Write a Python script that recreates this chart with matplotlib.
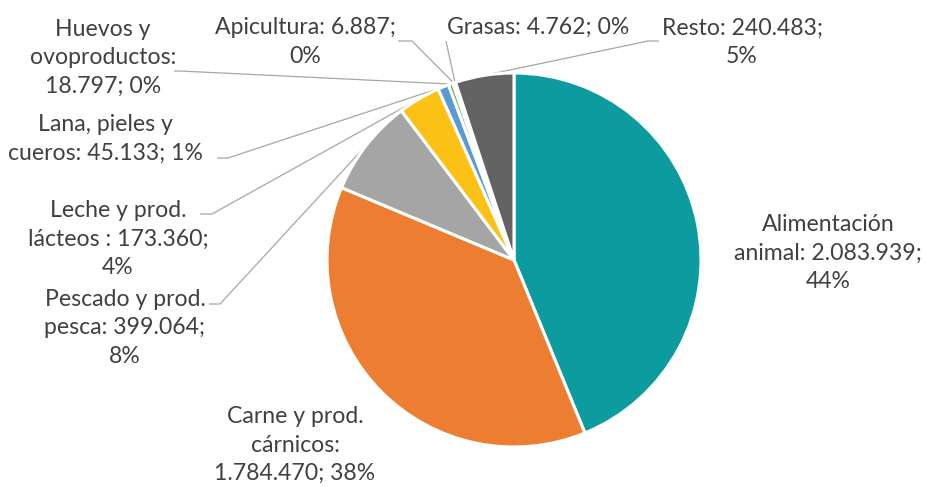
import matplotlib
matplotlib.use("Agg")
import matplotlib.pyplot as plt
import numpy as np

# ---- data ----
categories = ["Alimentación\nanimal", "Carne y prod.\ncárnicos", "Pescado y prod.\npesca",
              "Leche y prod.\nlácteos ", "Lana, pieles y\ncueros", "Huevos y\novoproductos",
              "Apicultura", "Grasas", "Resto"]
values = [2083939, 1784470, 399064, 173360, 45133, 18797, 6887, 4762, 240483]
label_texts = ["Alimentación\nanimal: 2.083.939;\n44%",
               "Carne y prod.\ncárnicos:\n1.784.470; 38%",
               "Pescado y prod.\npesca: 399.064;\n8%",
               "Leche y prod.\nlácteos : 173.360;\n4%",
               "Lana, pieles y\ncueros: 45.133; 1%",
               "Huevos y\novoproductos:\n18.797; 0%",
               "Apicultura: 6.887;\n0%",
               "Grasas: 4.762; 0%",
               "Resto: 240.483;\n5%"]
colors = ["#0C9CA0", "#ED7D31", "#A5A5A5", "#FBC114", "#5B9BD5", "#70AD47",
          "#264478", "#9E480E", "#636363"]

# ---- layout (pixel coordinates, y from top) ----
W, H = 925, 487
center_px = (514, 260)
radius_px = 187
label_pos = [(828, 253), (295, 445), (125, 328), (118, 239), (105, 139),
             (103, 58), (305, 42), (538, 27), (742, 42)]
# leader lines: (label-side end, elbow) or None
leader = [None, None,
          ((209, 304), (220, 304)),
          ((200, 214), (212, 214)),
          ((217, 158), (228, 158)),
          ((174, 71), (180, 71)),
          ((398, 41), (412, 41)),
          ((446, 41), (446, 41)),
          ((659, 41), (648, 41))]

fig = plt.figure(figsize=(W / 100, H / 100), dpi=100)
ax = fig.add_axes([0, 0, 1, 1])
ax.set_xlim(0, W)
ax.set_ylim(0, H)
ax.set_aspect("equal")
ax.axis("off")

cx, cy = center_px[0], H - center_px[1]
wedges, _ = ax.pie(values, colors=colors, startangle=90, counterclock=False,
                   center=(cx, cy), radius=radius_px,
                   wedgeprops=dict(edgecolor="white", linewidth=2.2))
ax.set_xlim(0, W)
ax.set_ylim(0, H)
ax.axis("off")

font = ["Lato", "DejaVu Sans"]
for i, (txt, (lx, ly)) in enumerate(zip(label_texts, label_pos)):
    ax.text(lx, H - ly, txt, ha="center", va="center", fontsize=16.6,
            color="#404040", family=font, linespacing=1.42)
    if leader[i] is not None:
        w = wedges[i]
        mid = np.deg2rad((w.theta1 + w.theta2) / 2)
        ex = cx + radius_px * np.cos(mid)
        ey = cy + radius_px * np.sin(mid)
        (ax0, ay0), (ax1, ay1) = leader[i]
        ax.plot([ax0, ax1, ex], [H - ay0, H - ay1, ey], color="#A6A6A6", lw=0.9,
                solid_capstyle="butt", zorder=0.5)

fig.savefig("out.png", dpi=100)
